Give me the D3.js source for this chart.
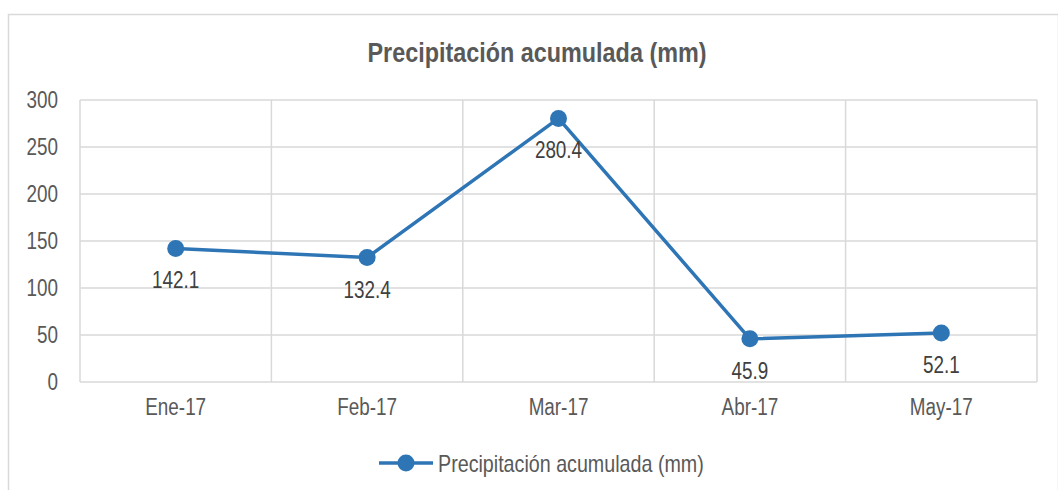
<!DOCTYPE html>
<html>
<head>
<meta charset="utf-8">
<script src="https://cdn.jsdelivr.net/npm/d3@7"></script>
<style>
  html, body { margin: 0; padding: 0; background: #fff; }
  svg text { font-family: "Liberation Sans Narrow", "Arial Narrow", "Liberation Sans", Arial, sans-serif; }
</style>
</head>
<body>
<svg id="chart" width="1058" height="490"></svg>
<script>
// Monthly accumulated precipitation
const months = ["Ene-17", "Feb-17", "Mar-17", "Abr-17", "May-17"];
const precipitation = [142.1, 132.4, 280.4, 45.9, 52.1];
const yTicks = [0, 50, 100, 150, 200, 250, 300];
const chartTitle = "Precipitación acumulada (mm)";
const seriesName = "Precipitación acumulada (mm)";

const W = 1058, H = 490;
const margin = { left: 80, right: 21, top: 100, bottom: 108 };
const lineColor = "#2E75B6";
const gridColor = "#D9D9D9";

const svg = d3.select("#chart");

// narrow the glyphs horizontally, like a condensed face
function condense(sel, f) {
  sel.each(function () {
    const len = this.getComputedTextLength();
    d3.select(this)
      .attr("textLength", len * f)
      .attr("lengthAdjust", "spacingAndGlyphs");
  });
}

// outer chart frame
svg.append("rect")
  .attr("x", 8.5).attr("y", 14.5)
  .attr("width", W - 8).attr("height", H)
  .attr("fill", "#fff")
  .attr("stroke", gridColor).attr("stroke-width", 1.5);

const x = d3.scaleBand()
  .domain(months)
  .range([margin.left, W - margin.right]);

const y = d3.scaleLinear()
  .domain([0, 300])
  .range([H - margin.bottom, margin.top]);

// title
svg.append("text")
  .attr("x", 537)
  .attr("y", 52)
  .attr("text-anchor", "middle")
  .attr("dominant-baseline", "central")
  .attr("font-size", 27.5)
  .attr("font-weight", "bold")
  .attr("fill", "#595959")
  .text(chartTitle)
  .call(condense, 0.85);

// horizontal gridlines
svg.append("g")
  .selectAll("line")
  .data(yTicks)
  .join("line")
  .attr("x1", margin.left).attr("x2", W - margin.right)
  .attr("y1", d => y(d)).attr("y2", d => y(d))
  .attr("stroke", gridColor).attr("stroke-width", 1.5);

// vertical gridlines at category boundaries
const bounds = months.map(m => x(m)).concat([x(months[months.length - 1]) + x.bandwidth()]);
svg.append("g")
  .selectAll("line")
  .data(bounds)
  .join("line")
  .attr("x1", d => d).attr("x2", d => d)
  .attr("y1", y(300)).attr("y2", y(0))
  .attr("stroke", gridColor).attr("stroke-width", 1.5);

// y axis labels
const yAxis = d3.axisLeft(y).tickValues(yTicks).tickSize(0).tickPadding(22);
svg.append("g")
  .attr("transform", `translate(${margin.left},0)`)
  .call(yAxis)
  .call(g => g.select(".domain").remove())
  .call(g => g.selectAll("text")
    .attr("font-size", 23)
    .attr("fill", "#595959")
    .call(condense, 0.82));

// x axis labels
const xAxis = d3.axisBottom(x).tickSize(0).tickPadding(17);
svg.append("g")
  .attr("transform", `translate(0,${y(0)})`)
  .call(xAxis)
  .call(g => g.select(".domain").remove())
  .call(g => g.selectAll("text")
    .attr("font-size", 23)
    .attr("fill", "#595959")
    .call(condense, 0.82));

const cx = m => x(m) + x.bandwidth() / 2;
const data = months.map((m, i) => ({ m, v: precipitation[i] }));

// series line
svg.append("path")
  .datum(data)
  .attr("fill", "none")
  .attr("stroke", lineColor)
  .attr("stroke-width", 3.5)
  .attr("stroke-linejoin", "round")
  .attr("d", d3.line().x(d => cx(d.m)).y(d => y(d.v)));

// markers
svg.append("g")
  .selectAll("circle")
  .data(data)
  .join("circle")
  .attr("cx", d => cx(d.m))
  .attr("cy", d => y(d.v))
  .attr("r", 8.5)
  .attr("fill", lineColor);

// value labels below points
svg.append("g")
  .selectAll("text")
  .data(data)
  .join("text")
  .attr("x", d => cx(d.m))
  .attr("y", d => y(d.v) + 32)
  .attr("text-anchor", "middle")
  .attr("dominant-baseline", "central")
  .attr("font-size", 23)
  .attr("fill", "#404040")
  .text(d => d.v.toFixed(1))
  .call(condense, 0.82);

// legend
const legend = svg.append("g").attr("transform", "translate(379,463)");
legend.append("line")
  .attr("x1", 0).attr("x2", 54)
  .attr("stroke", lineColor).attr("stroke-width", 3.5);
legend.append("circle")
  .attr("cx", 27).attr("r", 8.5).attr("fill", lineColor);
legend.append("text")
  .attr("x", 59)
  .attr("dominant-baseline", "central")
  .attr("font-size", 24)
  .attr("fill", "#595959")
  .text(seriesName)
  .call(condense, 0.82);
</script>
</body>
</html>
